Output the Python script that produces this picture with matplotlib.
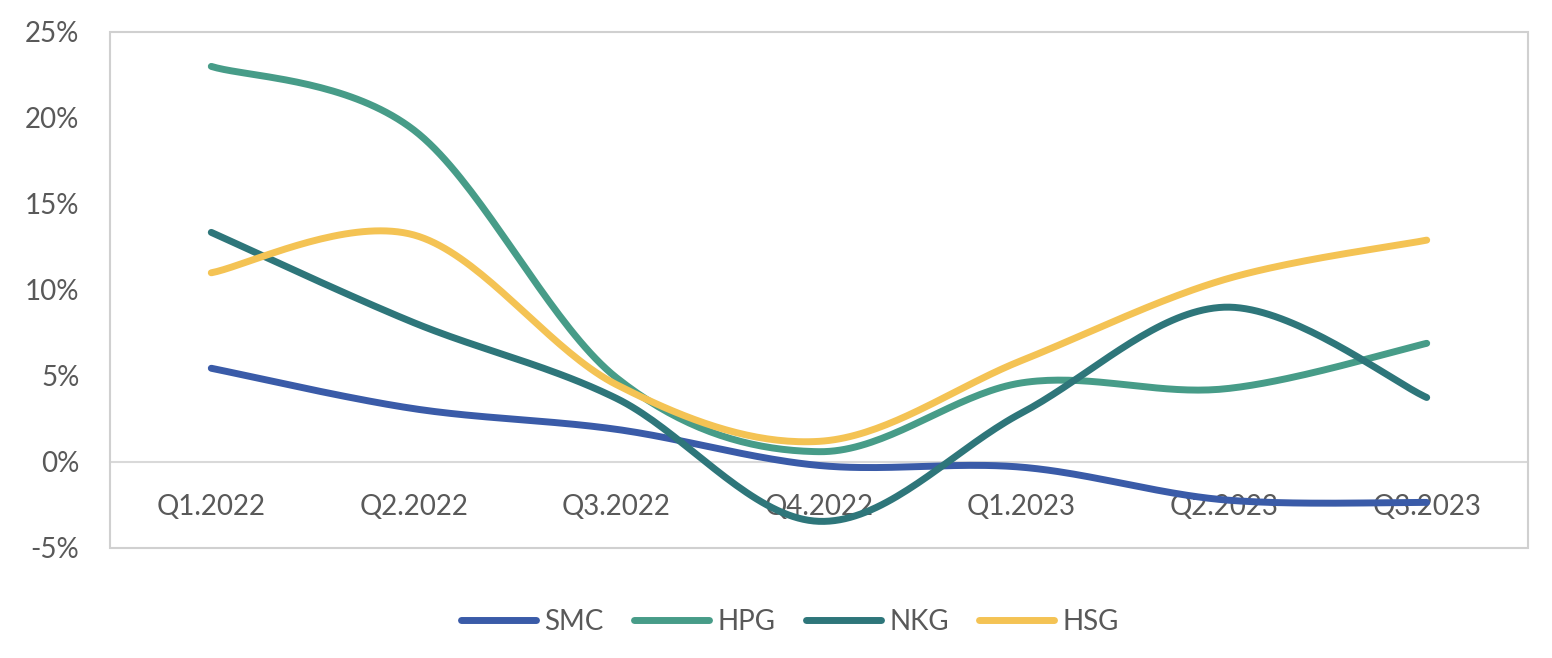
import numpy as np
import matplotlib.pyplot as plt
from matplotlib.patches import Rectangle
from matplotlib.ticker import FuncFormatter

plt.rcParams['font.family'] = ['Lato', 'DejaVu Sans']

# dữ liệu (%)
quarters = ["Q1.2022", "Q2.2022", "Q3.2022", "Q4.2022", "Q1.2023", "Q2.2023", "Q3.2023"]
smc = [5.45, 3.1, 1.9, -0.2, -0.3, -2.2, -2.35]
hpg = [23.0, 19.3, 4.9, 0.6, 4.6, 4.25, 6.9]
nkg = [13.35, 8.1, 3.7, -3.45, 2.85, 9.0, 3.75]
hsg = [11.0, 13.2, 4.5, 1.2, 5.9, 10.6, 12.9]

series = [("SMC", smc, "#3A5BA8"), ("HPG", hpg, "#479C88"),
          ("NKG", nkg, "#2E767A"), ("HSG", hsg, "#F4C354")]


def smooth(xs, ys, n=40):
    # đường cong kiểu Excel (Catmull-Rom -> Bezier)
    xs = np.asarray(xs, float)
    ys = np.asarray(ys, float)
    px = np.concatenate([[xs[0]], xs, [xs[-1]]])
    py = np.concatenate([[ys[0]], ys, [ys[-1]]])
    outx, outy = [], []
    t = np.linspace(0, 1, n)
    for i in range(1, len(px) - 2):
        p0 = np.array([px[i], py[i]])
        p3 = np.array([px[i + 1], py[i + 1]])
        c1 = p0 + (np.array([px[i + 1], py[i + 1]]) - np.array([px[i - 1], py[i - 1]])) / 6
        c2 = p3 - (np.array([px[i + 2], py[i + 2]]) - np.array([px[i], py[i]])) / 6
        b = ((1 - t) ** 3)[:, None] * p0 + (3 * (1 - t) ** 2 * t)[:, None] * c1 \
            + (3 * (1 - t) * t ** 2)[:, None] * c2 + (t ** 3)[:, None] * p3
        outx.extend(b[:, 0])
        outy.extend(b[:, 1])
    return outx, outy


fig = plt.figure(figsize=(15.52, 6.58), dpi=100)
ax = fig.add_axes([110 / 1552, 1 - 548 / 658, 1418 / 1552, 516 / 658])

x = np.arange(len(quarters))
for name, vals, col in series:
    sx, sy = smooth(x, vals)
    ax.plot(sx, sy, color=col, lw=5, solid_capstyle='round', label=name)

ax.set_xlim(-0.5, len(quarters) - 0.5)
ax.set_ylim(-5, 25)
ax.set_yticks(range(-5, 26, 5))
ax.yaxis.set_major_formatter(FuncFormatter(lambda v, p: f"{v:.0f}%"))

for s in ['top', 'left', 'right']:
    ax.spines[s].set_visible(False)
ax.spines['bottom'].set_position(('data', 0))
ax.spines['bottom'].set_color('#D9D9D9')
ax.spines['bottom'].set_linewidth(1.5)
ax.spines['bottom'].set_zorder(0)

ax.add_patch(Rectangle((0, 0), 1, 1, transform=ax.transAxes, fill=False,
                       edgecolor='#D0D0D0', lw=1.5, clip_on=False))

ax.set_xticks(x)
ax.set_xticklabels(quarters)
ax.tick_params(axis='x', length=0, pad=23, labelsize=20, labelcolor='#595959')
ax.tick_params(axis='y', length=0, pad=22, labelsize=20, labelcolor='#595959')

fig.legend(loc='center', bbox_to_anchor=(790 / 1552, 1 - 622 / 658), ncol=4,
           frameon=False, fontsize=20, labelcolor='#595959', handlelength=2.7,
           handletextpad=0.3, columnspacing=1.1)

fig.savefig("out.png", dpi=100)
